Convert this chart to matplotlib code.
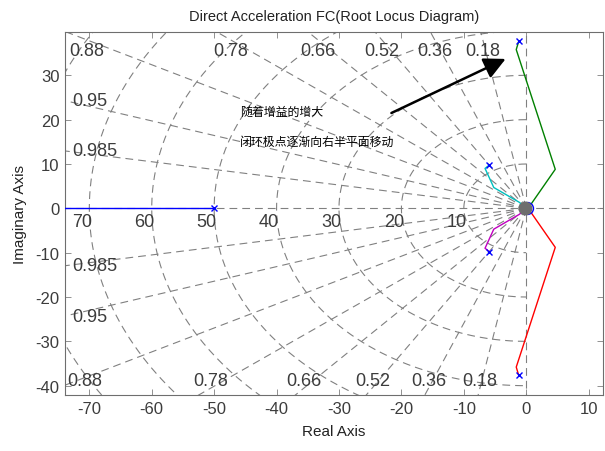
import numpy as np
import matplotlib
matplotlib.use("Agg")
import matplotlib.pyplot as plt
from matplotlib import font_manager

# ── Root locus data ──────────────────────────────────────────────────────────
POLES_RE = [-50.0, -1.2, -1.2, -5.9, -5.9]
POLES_IM = [0.0, 37.7, -37.7, 9.8, -9.8]

BLUE_RE = [-50.0, -80.0]
BLUE_IM = [0.0, 0.0]
GREEN_RE = [-1.2, -1.6, 4.65, 0.8, 0.0]
GREEN_IM = [37.7, 35.8, 8.8, 1.0, 0.0]
RED_RE = [-1.2, -1.6, 4.65, 0.8, 0.0]
RED_IM = [-37.7, -35.8, -8.8, -1.0, 0.0]
CYAN_RE = [-5.9, -6.6, -5.2, -1.1, 0.0]
CYAN_IM = [9.8, 9.0, 4.7, 1.35, 0.0]
MAGENTA_RE = [-5.9, -6.6, -5.2, -1.1, 0.0]
MAGENTA_IM = [-9.8, -9.0, -4.7, -1.35, 0.0]

# ── sgrid ────────────────────────────────────────────────────────────────────
ZETA = [0.18, 0.36, 0.52, 0.66, 0.78, 0.88, 0.95, 0.985]
ZETA_TOP = [0.18, 0.36, 0.52, 0.66, 0.78, 0.88]
ZETA_LEFT = [0.95, 0.985]
WN = [10, 20, 30, 40, 50, 60, 70, 80]
WN_LABELS = [10, 20, 30, 40, 50, 60, 70]

X_TICKS = [-70, -60, -50, -40, -30, -20, -10, 0, 10]
Y_TICKS = [-40, -30, -20, -10, 0, 10, 20, 30]
XLIM = (-73.9, 12.3)
YLIM = (-42.1, 39.7)

TITLE = "Direct Acceleration FC(Root Locus Diagram)"
NOTE_1 = "随着增益的增大"
NOTE_2 = "闭环极点逐渐向右半平面移动"

GRID_C = "#808080"
TEXT_C = "#3c3c3c"

names = {f.name for f in font_manager.fontManager.ttflist}
FONT = "Liberation Sans Narrow" if "Liberation Sans Narrow" in names else "Liberation Sans"

plt.rcParams.update({
    "font.family": [FONT, "DejaVu Sans"],
    "axes.linewidth": 0.8,
    "axes.unicode_minus": False,
})

fig = plt.figure(figsize=(6.05, 4.52), dpi=100)
ax = fig.add_axes([0.1074, 0.1239, 0.8893, 0.8024])
ax.set_xlim(*XLIM)
ax.set_ylim(*YLIM)

dash = (0, (7, 4.5))
grid_kw = dict(color=GRID_C, lw=0.8, linestyle=dash, zorder=1)

# damping lines
for z in ZETA:
    s = np.sqrt(1 - z * z)
    ax.plot([0, -200 * z], [0, 200 * s], **grid_kw)
    ax.plot([0, -200 * z], [0, -200 * s], **grid_kw)
ax.plot([-200, 200], [0, 0], **grid_kw)
ax.plot([0, 0], [-200, 200], **grid_kw)

# natural frequency arcs (left half plane)
th = np.linspace(np.pi / 2, 3 * np.pi / 2, 300)
for w in WN:
    ax.plot(w * np.cos(th), w * np.sin(th), **grid_kw)

# grid labels
lab_kw = dict(fontsize=13, color=TEXT_C, zorder=2)
for z in ZETA_TOP:
    r = z / np.sqrt(1 - z * z)
    xt = max(-(YLIM[1] - 1.7) * r, XLIM[0] + 3.2)
    xb = max(-(-YLIM[0] - 1.6) * r, XLIM[0] + 3.2)
    ax.text(xt, YLIM[1] - 4.2, f"{z:g}", ha="center", va="center", **lab_kw)
    ax.text(xb, YLIM[0] + 3.3, f"{z:g}", ha="center", va="center", **lab_kw)
for z in ZETA_LEFT:
    yv = -XLIM[0] * np.sqrt(1 - z * z) / z
    ax.text(XLIM[0] + 1.1, yv, f"{z:g}", ha="left", va="center", **lab_kw)
    ax.text(XLIM[0] + 1.1, -yv, f"{z:g}", ha="left", va="center", **lab_kw)
for w in WN_LABELS:
    ax.text(-w + 0.4, -1.0, f"{w}", ha="right", va="top", **lab_kw)

# ── Loci ─────────────────────────────────────────────────────────────────────
lw = 1.0
ax.plot(BLUE_RE, BLUE_IM, color="#0000ff", lw=lw, zorder=3)
ax.plot(GREEN_RE, GREEN_IM, color="#008000", lw=lw, zorder=3)
ax.plot(RED_RE, RED_IM, color="#ff0000", lw=lw, zorder=3)
ax.plot(CYAN_RE, CYAN_IM, color="#00c0c0", lw=lw, zorder=3)
ax.plot(MAGENTA_RE, MAGENTA_IM, color="#c000c0", lw=lw, zorder=3)

ax.plot(POLES_RE, POLES_IM, linestyle="none", marker="x", ms=5,
        mew=1.0, color="#0000ff", zorder=4)
# cluster of poles/zeros at the origin
ax.plot([0.1], [0], marker="o", ms=8.6, mfc="none", mec="#0000ff",
        mew=1.0, zorder=4)
ax.plot([-0.25], [0], marker="o", ms=9.0, mfc="#6e6e6e", mec="#6e6e6e",
        zorder=5)

# ── Annotation ───────────────────────────────────────────────────────────────
ax.annotate("", xy=(-3.3, 33.7), xytext=(-21.6, 21.5),
            arrowprops=dict(arrowstyle="-|>,head_length=1.3,head_width=0.65",
                            color="black", lw=1.8, shrinkA=0, shrinkB=0),
            zorder=6)
cjk = ["Noto Sans CJK SC", "DejaVu Sans"]
ax.text(-45.9, 21.9, NOTE_1, fontsize=8.6, family=cjk, ha="left",
        va="center", color="black", zorder=6)
ax.text(-45.9, 15.0, NOTE_2, fontsize=8.6, family=cjk, ha="left",
        va="center", color="black", zorder=6)

# ── Axes style ───────────────────────────────────────────────────────────────
ax.set_xticks(X_TICKS)
ax.set_yticks(Y_TICKS)
ax.tick_params(direction="in", length=4, width=0.6, colors=GRID_C,
               labelcolor=TEXT_C, labelsize=12, top=True, right=True, pad=4)
for sp in ax.spines.values():
    sp.set_color("#6e6e6e")

ax.set_title(TITLE, fontsize=10.5, color="#222222", pad=9)
ax.set_xlabel("Real Axis", fontsize=11, color="#222222", labelpad=6)
ax.set_ylabel("Imaginary Axis", fontsize=11, color="#222222", labelpad=6)

fig.savefig("out.png", dpi=100, facecolor="white")
